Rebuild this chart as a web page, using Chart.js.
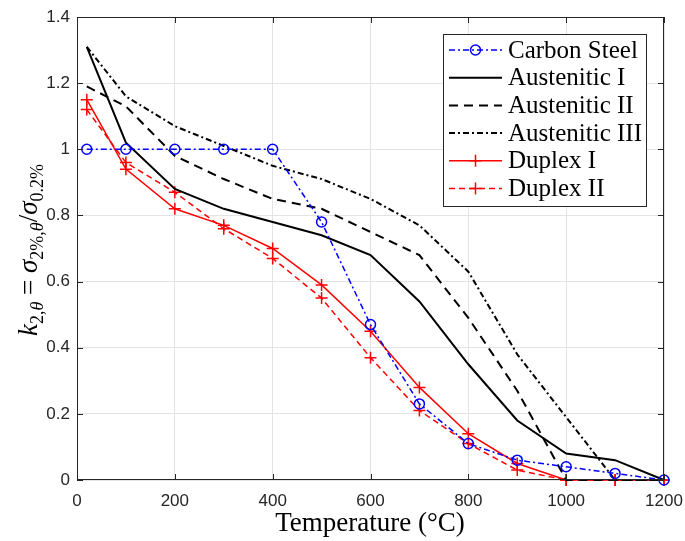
<!DOCTYPE html>
<html>
<head>
<meta charset="utf-8">
<script src="https://cdn.jsdelivr.net/npm/chart.js@4.4.1/dist/chart.umd.min.js"></script>
<style>
  html, body { margin: 0; padding: 0; background: #fff; }
  canvas { display: block; }
</style>
</head>
<body>
<canvas id="myChart" width="685" height="541"></canvas>
<script>
// temperatures (deg C) and reduction factors
var temps = [20, 100, 200, 300, 400, 500, 600, 700, 800, 900, 1000, 1100, 1200];
var carbon  = [1, 1, 1, 1, 1, 0.78, 0.47, 0.23, 0.11, 0.06, 0.04, 0.02, 0];
var aust1   = [1.31, 1.02, 0.88, 0.82, 0.78, 0.74, 0.68, 0.54, 0.35, 0.18, 0.08, 0.06, 0];
var aust2   = [1.19, 1.13, 0.98, 0.91, 0.85, 0.82, 0.75, 0.68, 0.49, 0.27, 0, 0, 0];
var aust3   = [1.31, 1.16, 1.07, 1.01, 0.95, 0.91, 0.85, 0.77, 0.63, 0.38, 0.19, 0, 0];
var duplex1 = [1.15, 0.94, 0.82, 0.77, 0.70, 0.59, 0.45, 0.28, 0.14, 0.05, 0, 0, 0];
var duplex2 = [1.12, 0.96, 0.87, 0.76, 0.67, 0.55, 0.37, 0.21, 0.11, 0.03, 0, 0, 0];

var xTicks = ['0', '200', '400', '600', '800', '1000', '1200'];
var yTicks = ['0', '0.2', '0.4', '0.6', '0.8', '1', '1.2', '1.4'];

var AXIS = '#262626';
var SERIF = '"Liberation Serif", "DejaVu Serif", serif';

function pts(vals) {
  return vals.map(function(v, i) { return {x: temps[i], y: v}; });
}

var series = [
  {label: 'Carbon Steel', data: carbon, color: '#0000ff', width: 1.5, dash: [6, 3, 2, 3], marker: 'circle'},
  {label: 'Austenitic I', data: aust1, color: '#000000', width: 2, dash: [], marker: false},
  {label: 'Austenitic II', data: aust2, color: '#000000', width: 2, dash: [9, 6], marker: false},
  {label: 'Austenitic III', data: aust3, color: '#000000', width: 2, dash: [6, 3, 2, 3], marker: false},
  {label: 'Duplex I', data: duplex1, color: '#ff0000', width: 1.5, dash: [], marker: 'cross'},
  {label: 'Duplex II', data: duplex2, color: '#ff0000', width: 1.5, dash: [6, 4], marker: 'cross'}
];

var datasets = series.map(function(s) {
  return {
    label: s.label,
    data: pts(s.data),
    borderColor: s.color,
    backgroundColor: 'rgba(0,0,0,0)',
    borderWidth: s.width,
    borderDash: s.dash,
    tension: 0,
    fill: false,
    pointStyle: s.marker || 'circle',
    pointRadius: s.marker ? (s.marker == 'cross' ? 6 : 5) : 0,
    pointBorderColor: s.color,
    pointBackgroundColor: 'rgba(0,0,0,0)',
    pointBorderWidth: 1.5,
    clip: false
  };
});

// box, inward ticks, axis titles and legend
var decor = {
  id: 'decor',
  afterDatasetsDraw: function(chart) {
    var ctx = chart.ctx, a = chart.chartArea;
    var xs = chart.scales.x, ys = chart.scales.y;
    ctx.save();
    ctx.strokeStyle = AXIS;
    ctx.lineWidth = 1;
    ctx.setLineDash([]);
    ctx.strokeRect(a.left + 0.5, a.top + 0.5, a.right - a.left - 1, a.bottom - a.top - 1);
    ctx.beginPath();
    for (var i = 0; i <= 6; i++) {
      var px = Math.round(xs.getPixelForValue(i * 200)) + 0.5;
      ctx.moveTo(px, a.bottom); ctx.lineTo(px, a.bottom - 6);
      ctx.moveTo(px, a.top); ctx.lineTo(px, a.top + 6);
    }
    for (var j = 0; j <= 7; j++) {
      var py = Math.round(ys.getPixelForValue(j * 0.2)) + 0.5;
      ctx.moveTo(a.left, py); ctx.lineTo(a.left + 6, py);
      ctx.moveTo(a.right, py); ctx.lineTo(a.right - 6, py);
    }
    ctx.stroke();
    ctx.restore();
  },
  afterDraw: function(chart) {
    var ctx = chart.ctx;
    ctx.save();
    ctx.fillStyle = '#000';
    ctx.textBaseline = 'alphabetic';

    // x title
    ctx.font = '27px ' + SERIF;
    ctx.textAlign = 'center';
    ctx.fillText('Temperature (\u00B0C)', 370, 531);

    // y title, math-like pieces
    var big = 'italic 27px ' + SERIF, bigUp = '27px ' + SERIF, small = '18px ' + SERIF, smallIt = 'italic 18px ' + SERIF;
    var parts = [
      {t: 'k', f: big, d: 0},
      {t: '2,', f: small, d: 6},
      {t: '\u03B8', f: smallIt, d: 6},
      {t: ' = ', f: bigUp, d: 0},
      {t: '\u03C3', f: big, d: 0},
      {t: '2%,', f: small, d: 6},
      {t: '\u03B8', f: smallIt, d: 6},
      {t: '/', f: bigUp, d: 0},
      {t: '\u03C3', f: big, d: 0},
      {t: '0.2%', f: small, d: 6}
    ];
    var total = 0;
    parts.forEach(function(p) { ctx.font = p.f; p.w = ctx.measureText(p.t).width; total += p.w; });
    ctx.translate(37, 250);
    ctx.rotate(-Math.PI / 2);
    ctx.textAlign = 'left';
    var cx = -total / 2;
    parts.forEach(function(p) {
      ctx.font = p.f;
      ctx.fillText(p.t, cx, p.d);
      cx += p.w;
    });
    ctx.restore();

    // legend
    ctx.save();
    var lx = 443, ly = 34, lw = 203, lh = 172;
    ctx.fillStyle = '#fff';
    ctx.fillRect(lx, ly, lw, lh);
    ctx.strokeStyle = '#262626';
    ctx.lineWidth = 1;
    ctx.strokeRect(lx + 0.5, ly + 0.5, lw, lh);
    series.forEach(function(s, k) {
      var y = 50 + k * 27.7;
      ctx.strokeStyle = s.color;
      ctx.lineWidth = s.width;
      ctx.setLineDash(s.dash);
      ctx.beginPath();
      ctx.moveTo(449, y); ctx.lineTo(502, y);
      ctx.stroke();
      ctx.setLineDash([]);
      ctx.lineWidth = 1.5;
      if (s.marker == 'circle') {
        ctx.beginPath(); ctx.arc(475.5, y, 5, 0, Math.PI * 2); ctx.stroke();
      } else if (s.marker == 'cross') {
        ctx.beginPath();
        ctx.moveTo(469.5, y); ctx.lineTo(481.5, y);
        ctx.moveTo(475.5, y - 6); ctx.lineTo(475.5, y + 6);
        ctx.stroke();
      }
      ctx.fillStyle = '#000';
      ctx.font = '25px ' + SERIF;
      ctx.textAlign = 'left';
      ctx.textBaseline = 'middle';
      ctx.fillText(s.label, 508, y + 1);
    });
    ctx.restore();
  }
};

var chart = new Chart(document.getElementById('myChart').getContext('2d'), {
  type: 'line',
  data: { datasets: datasets },
  options: {
    responsive: false,
    animation: false,
    devicePixelRatio: 1,
    layout: { padding: { top: 17, right: 21, left: 0, bottom: 0 } },
    plugins: { legend: { display: false }, tooltip: { enabled: false } },
    scales: {
      x: {
        type: 'linear', min: 0, max: 1200,
        afterFit: function(s) { s.height = 61; s.paddingLeft = 0; s.paddingRight = 0; },
        afterBuildTicks: function(s) { s.ticks = xTicks.map(function(t) { return {value: Number(t)}; }); },
        grid: { color: '#e3e3e3', drawTicks: false },
        border: { display: false },
        ticks: {
          padding: 11, color: AXIS, maxRotation: 0,
          font: { family: '"Liberation Sans", Arial, sans-serif', size: 17 },
          callback: function(v, i) { return xTicks[i]; }
        }
      },
      y: {
        type: 'linear', min: 0, max: 1.4,
        afterFit: function(s) { s.width = 77; s.paddingTop = 0; s.paddingBottom = 0; },
        afterBuildTicks: function(s) { s.ticks = yTicks.map(function(t) { return {value: Number(t)}; }); },
        grid: { color: '#e3e3e3', drawTicks: false },
        border: { display: false },
        ticks: {
          padding: 7, color: AXIS,
          font: { family: '"Liberation Sans", Arial, sans-serif', size: 17 },
          callback: function(v, i) { return yTicks[i]; }
        }
      }
    }
  },
  plugins: [decor]
});
</script>
</body>
</html>
